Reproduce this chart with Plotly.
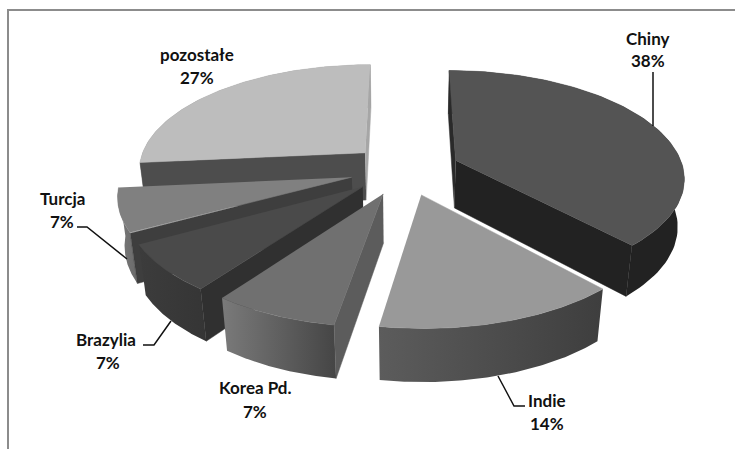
import numpy as np
import plotly.graph_objects as go

# --- data ---
categories = ["Chiny", "Indie", "Korea Pd.", "Brazylia", "Turcja", "pozostałe"]
shares = [38.2, 14.4, 7.4, 7.0, 6.5, 26.5]
labels_pct = ["38%", "14%", "7%", "7%", "7%", "27%"]

# --- style per slice: top, start-edge wall, end-edge wall, outer wall gradient (left -> right) ---
top_col = ["#545454", "#999999", "#707070", "#4a4a4a", "#808080", "#bdbdbd"]
start_wall = ["#2a2a2a", "#5a5a5a", "#5c5c5c", "#303030", "#3e3e3e", "#4d4d4d"]
end_wall = ["#222222", "#505050", "#5f5f5f", "#3a3a3a", "#707070", "#a6a6a6"]
outer_l = ["#222222", "#5c5c5c", "#7a7a7a", "#3c3c3c", "#7a7a7a", "#8a8a8a"]
outer_r = ["#222222", "#3e3e3e", "#454545", "#353535", "#6a6a6a", "#8a8a8a"]
draw_order = [5, 4, 3, 2, 0, 1]

# --- camera / layout ---
CX, CY = 405, 169.6
R, EXPLODE, H = 228, 55, 49
S, K, D = 0.4635, 0.000645, 0.024


def project(X, Y, bottom=False):
    X, Y = np.asarray(X, float), np.asarray(Y, float)
    z = 1.0 if bottom else 0.0
    depth = 1 + K * Y + D * z
    return CX + X / depth, CY + (-S * Y + H * z) / depth


def poly(fig, xs, ys, color=None, grad=None):
    kw = dict(x=np.round(xs, 2).tolist(), y=np.round(ys, 2).tolist(), mode="lines", fill="toself",
              hoverinfo="skip", showlegend=False)
    if grad:
        kw["fillgradient"] = dict(type="horizontal", colorscale=[[0, grad[0]], [1, grad[1]]])
        kw["line"] = dict(width=0)
    else:
        kw["fillcolor"] = color
        kw["line"] = dict(width=0.5, color=color)
    fig.add_trace(go.Scatter(**kw))


def side(p, a, b):
    """Sign of the side of line a-b on which point p lies."""
    return np.sign((b[0] - a[0]) * (p[1] - a[1]) - (b[1] - a[1]) * (p[0] - a[0]))


fig = go.Figure()
total = sum(shares)
edges = np.concatenate([[0], np.cumsum(shares)]) / total * 2 * np.pi

for i in draw_order:
    a0, a1 = edges[i], edges[i + 1]
    mid = (a0 + a1) / 2
    ax, ay = EXPLODE * np.sin(mid), EXPLODE * np.cos(mid)
    t = np.linspace(a0, a1, 80)
    ox, oy = ax + R * np.sin(t), ay + R * np.cos(t)

    # outer wall
    x1, y1 = project(ox, oy)
    x2, y2 = project(ox[::-1], oy[::-1], bottom=True)
    poly(fig, np.r_[x1, x2], np.r_[y1, y2], grad=(outer_l[i], outer_r[i]))

    # edge walls: drawn only when they face the viewer
    inner = project(ax + R * np.sin(mid), ay + R * np.cos(mid))
    for ang, col in ((a0, start_wall[i]), (a1, end_wall[i])):
        ex, ey = ax + R * np.sin(ang), ay + R * np.cos(ang)
        x1, y1 = project([ax, ex], [ay, ey])
        x2, y2 = project([ex, ax], [ey, ay], bottom=True)
        low = (float(np.mean(x2)), float(np.mean(y2)))
        a_pt, e_pt = (x1[0], y1[0]), (x1[1], y1[1])
        if side(low, a_pt, e_pt) != side(inner, a_pt, e_pt):
            poly(fig, np.r_[x1, x2], np.r_[y1, y2], color=col)

    # top face
    tx, ty = project(np.r_[ax, ox], np.r_[ay, oy])
    poly(fig, tx, ty, color=top_col[i])

# label placement (page pixels)
label_x = [648, 547, 255, 106, 62, 197]
label_name_y = [38, 400, 387, 339, 198, 54]
label_pct_y = [60, 423, 411, 362, 221, 77]
label_pct_x = [648, 547, 255, 108, 62, 197]
for i, name in enumerate(categories):
    fig.add_annotation(x=label_x[i], y=label_name_y[i], text=f"<b>{name}</b>", showarrow=False)
    fig.add_annotation(x=label_pct_x[i], y=label_pct_y[i], text=f"<b>{labels_pct[i]}</b>", showarrow=False)

leader_paths = [
    "M653,72 L653,126",
    "M498,376 L514,406 L525,406",
    "M77,227 L87,227 L127,259",
    "M143,345 L154,345 L171,321",
]
shapes = [dict(type="path", path=p, line=dict(color="#111111", width=1.5), xref="x", yref="y")
          for p in leader_paths]
shapes.append(dict(type="path", path="M8,449 L8,10 L735,10", line=dict(color="#8c8c8c", width=2),
                   xref="x", yref="y"))

fig.update_layout(
    width=735, height=449, margin=dict(l=0, r=0, t=0, b=0),
    paper_bgcolor="white", plot_bgcolor="white", showlegend=False,
    font=dict(family="Lato, Carlito, sans-serif", size=17, color="#111111"),
    xaxis=dict(range=[0, 735], visible=False, fixedrange=True),
    yaxis=dict(range=[449, 0], visible=False, fixedrange=True),
    shapes=shapes,
)
fig.write_html("out.html", config={"displayModeBar": False},
               post_script="document.body.style.margin='0';document.body.style.overflow='hidden';")
